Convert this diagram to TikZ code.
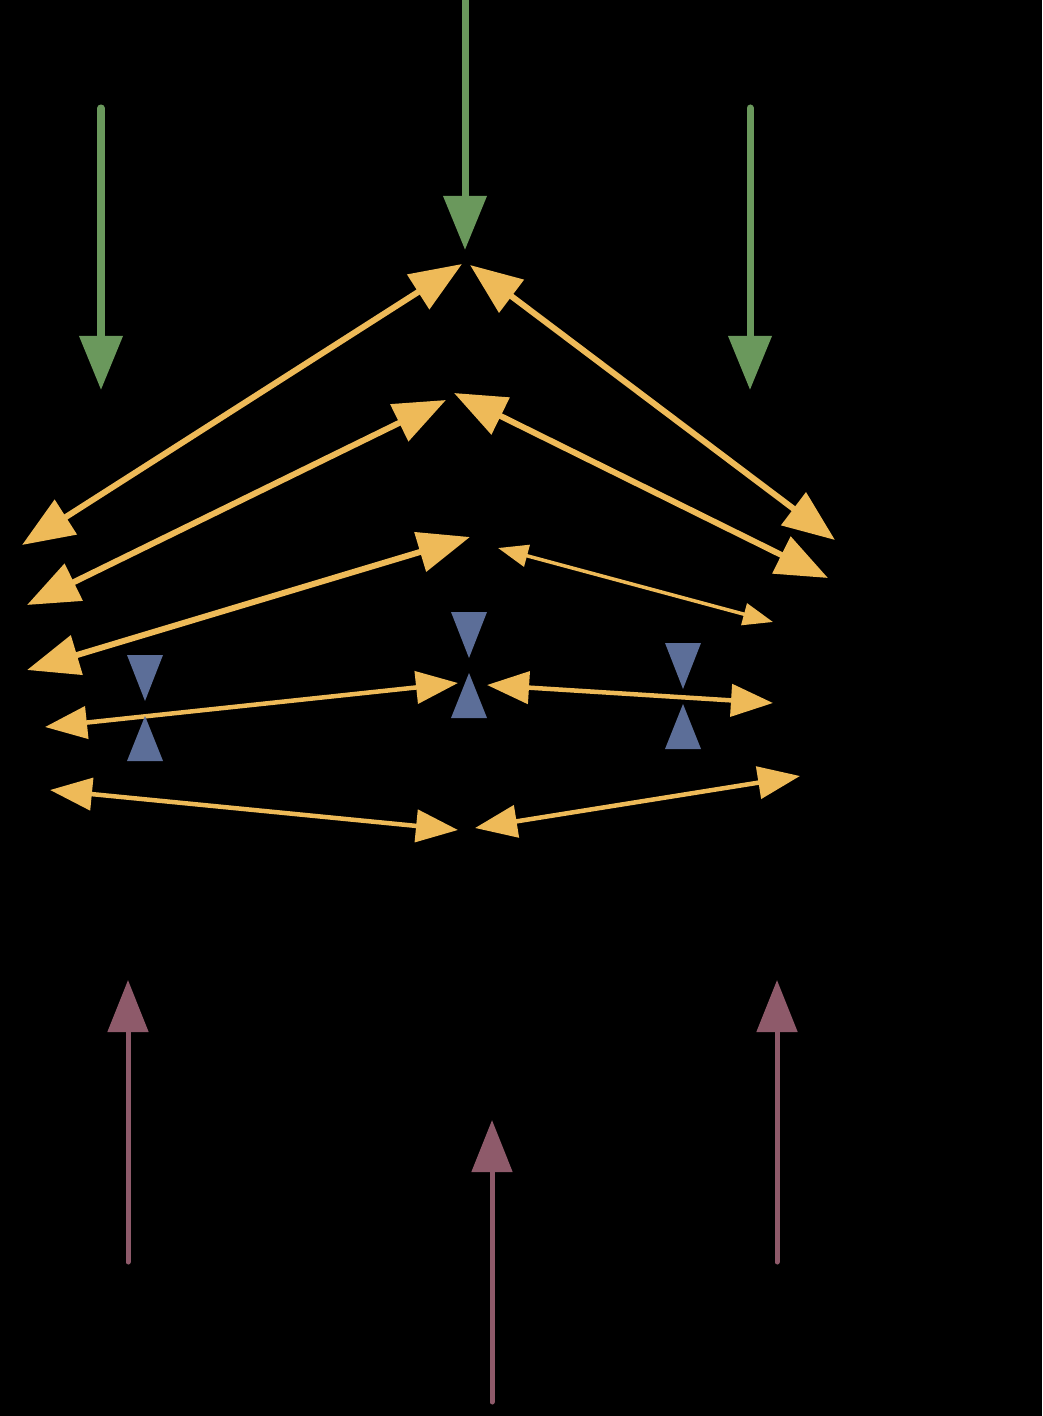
\documentclass[tikz,border=0pt]{standalone}
\usetikzlibrary{arrows.meta}
\definecolor{leafgreen}{RGB}{106,152,92}
\definecolor{amber}{RGB}{238,186,88}
\definecolor{slateblue}{RGB}{92,110,152}
\definecolor{mauve}{RGB}{142,90,106}

\begin{document}
\begin{tikzpicture}[
            x=0.01cm, y=-0.01cm,
            inflow/.style={draw=leafgreen, line width=0.07cm, line cap=round, -{Triangle[length=0.54cm, width=0.42cm]}},
            outflow/.style={draw=mauve, line width=0.05cm, line cap=round, -{Triangle[length=0.52cm, width=0.4cm]}},
            link/.style={draw=amber, line width=0.06cm, {Triangle[length=0.52cm, width=0.4cm]}-{Triangle[length=0.52cm, width=0.4cm]}},
            thinlink/.style={draw=amber, line width=0.045cm, {Triangle[length=0.42cm, width=0.32cm]}-{Triangle[length=0.42cm, width=0.32cm]}},
            valve/.style={fill=slateblue}
        ]
        % --- Frame ---
        \useasboundingbox (0,0) rectangle (1042,1416);
        \fill[black] (0,0) rectangle (1042,1416);

        % --- Points ---
        \coordinate (topIn) at (465,-5);
        \coordinate (apex) at (465,250);
        \coordinate (leftIn) at (101,108);
        \coordinate (leftTip) at (101,390);
        \coordinate (rightIn) at (750,108);
        \coordinate (rightTip) at (750,390);

        \coordinate (r1a) at (462,264);  \coordinate (r1L) at (22,545);
        \coordinate (r1b) at (470,265);  \coordinate (r1R) at (835,540);
        \coordinate (r2a) at (446,400);  \coordinate (r2L) at (27,605);
        \coordinate (r2b) at (454,393);  \coordinate (r2R) at (828,578);
        \coordinate (r3a) at (470,537);  \coordinate (r3L) at (27,670);
        \coordinate (r3b) at (498,548);  \coordinate (r3R) at (773,622);
        \coordinate (r4a) at (458,683);  \coordinate (r4L) at (45,727);
        \coordinate (r4b) at (487,685);  \coordinate (r4R) at (773,703);
        \coordinate (r5a) at (458,830);  \coordinate (r5L) at (50,790);
        \coordinate (r5b) at (475,828);  \coordinate (r5R) at (800,776);

        \coordinate (botL) at (128,1262); \coordinate (botLTip) at (128,980);
        \coordinate (botM) at (492,1402); \coordinate (botMTip) at (492,1120);
        \coordinate (botR) at (777,1262); \coordinate (botRTip) at (777,980);

        % --- Inflow arrows ---
        \draw[inflow] (topIn) -- (apex);
        \draw[inflow] (leftIn) -- (leftTip);
        \draw[inflow] (rightIn) -- (rightTip);

        % --- Links ---
        \draw[link] (r1L) -- (r1a);
        \draw[link] (r1b) -- (r1R);
        \draw[link] (r2L) -- (r2a);
        \draw[link] (r2b) -- (r2R);
        \draw[link] (r3L) -- (r3a);
        \draw[thinlink, {Triangle[length=0.3cm, width=0.22cm]}-{Triangle[length=0.3cm, width=0.22cm]}, line width=0.035cm] (r3b) -- (r3R);
        \draw[thinlink] (r4L) -- (r4a);
        \draw[thinlink] (r4b) -- (r4R);
        \draw[thinlink] (r5L) -- (r5a);
        \draw[thinlink] (r5b) -- (r5R);

        % --- Valves ---
        \foreach \vx/\vy in {145/655, 469/612, 683/643} {
            \fill[valve] (\vx-18,\vy) -- (\vx+18,\vy) -- (\vx,\vy+46) -- cycle;
            \fill[valve] (\vx-18,\vy+106) -- (\vx+18,\vy+106) -- (\vx,\vy+61) -- cycle;
        }

        % --- Outflow arrows ---
        \draw[outflow] (botL) -- (botLTip);
        \draw[outflow] (botM) -- (botMTip);
        \draw[outflow] (botR) -- (botRTip);
        \end{tikzpicture}
\end{document}
